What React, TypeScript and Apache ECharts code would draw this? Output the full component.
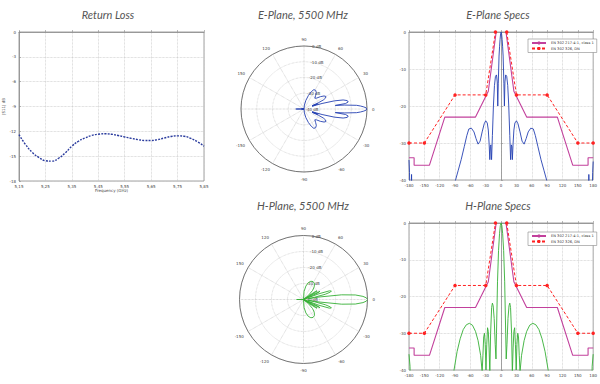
import React, { useEffect, useRef } from "react";
import * as echarts from "echarts";

// ---------- Return loss ----------
const RL_FREQ_GHZ = [5.15, 5.175, 5.2, 5.225, 5.25, 5.275, 5.3, 5.325, 5.35, 5.375, 5.4, 5.425, 5.45, 5.475, 5.5, 5.525, 5.55, 5.575, 5.6, 5.625, 5.65, 5.675, 5.7, 5.725, 5.75, 5.775, 5.8, 5.825, 5.85];
const RL_DB = [-12.4, -13.6, -14.55, -15.15, -15.55, -15.6, -15.25, -14.6, -13.8, -13.2, -12.8, -12.5, -12.35, -12.3, -12.35, -12.5, -12.68, -12.85, -13.0, -13.1, -13.1, -13.0, -12.8, -12.62, -12.55, -12.6, -12.85, -13.25, -13.8];
const RL_X_MIN = 5.15;
const RL_X_MAX = 5.85;
const RL_X_STEP = 0.1;
const RL_Y_MIN = -18;
const RL_Y_STEP = 3;

// ---------- E-plane pattern (deg, dB) ----------
const E_ANG = [-180, -179, -178, -176, -175, -174, -172, -100, -94, -90, -84, -78, -72, -67, -63, -58, -53, -49, -45, -41, -37, -33, -30, -27, -25, -23.5, -22, -21, -20, -18.6, -17, -15, -13, -11, -9, -7.5, -6.5, -5.5, -4, -3, -2, -1, 0, 1, 2, 3, 4, 5.5, 6.5, 7.5, 9, 11, 13, 15, 17, 18.6, 20, 21, 22, 23.5, 25, 27, 30, 33, 37, 41, 45, 49, 53, 58, 63, 67, 72, 78, 84, 90, 94, 100, 170, 170.5, 171.5, 172.5, 177.5, 179, 180];
const E_DB = [-34.6, -38, -46, -46, -38.5, -46, -50, -50, -44, -40.5, -37.5, -34.5, -31, -28, -26.2, -26, -27, -28.8, -30.3, -29.5, -27, -24.8, -24, -24.6, -26.5, -30, -34.5, -31, -30.5, -34.5, -28, -20, -14.5, -12, -11.6, -13.5, -20, -14, -6.5, -4, -2, -0.5, 0, -0.5, -2, -4, -6.5, -14, -20, -13.5, -11.6, -12, -14.5, -20, -28, -34.5, -30.5, -31, -34.5, -30, -26.5, -24.6, -24, -24.8, -27, -29.5, -30.3, -28.8, -27, -26, -26.2, -28, -31, -34.5, -37.5, -40.5, -44, -50, -50, -46, -38.5, -46, -46, -38, -35];

// ---------- H-plane pattern (deg, dB) ----------
const H_ANG = [-180, -178, -177, -172, -100, -95, -92, -86, -80, -74, -68, -62, -56, -50, -45, -40, -37, -35.5, -34, -32.5, -31, -29.5, -28, -26.5, -25, -23.5, -22, -20.5, -18.5, -17, -15.5, -13.5, -11.5, -10, -9, -7, -5, -3, -1.5, 0, 1.5, 3, 5, 7, 9, 10, 11.5, 13.5, 15.5, 17, 18.5, 20.5, 22, 23.5, 25, 26.5, 28, 29.5, 31, 32.5, 34, 35.5, 37, 40, 45, 50, 56, 62, 68, 74, 80, 86, 92, 95, 100, 172, 177, 178, 180];
const H_DB = [-35.7, -39, -46, -50, -50, -44, -40, -35, -31.5, -29, -27.7, -27.3, -27.8, -29.5, -32, -36, -40.5, -36, -31, -30, -33, -40, -33, -28.5, -29.5, -34, -41, -30, -23, -21.8, -22.5, -26, -33, -37, -30, -16, -7.5, -2.8, -0.7, 0, -0.7, -2.8, -7.5, -16, -30, -37, -33, -26, -22.5, -21.8, -23, -30, -41, -34, -29.5, -28.5, -33, -40, -33, -30, -31, -36, -40.5, -36, -32, -29.5, -27.8, -27.3, -27.7, -29, -31.5, -35, -40, -44, -50, -50, -46, -39, -35.7];

// ---------- Masks (null = gap where the mask leaves the top of the plot) ----------
const MASK1_NAME = "EN 302 217-4-1, class 1";
const MASK1_ANG = [-180, -170, -170, -140, -110, -50, -25, -9.6, null, 9.6, 25, 50, 110, 140, 170, 170, 180];
const MASK1_DB = [-34, -34, -36, -36, -23, -23, -16, 0, null, 0, -16, -23, -23, -36, -36, -34, -34];
const MASK2_NAME = "EN 302 326, DN";
const MASK2_ANG = [-180, -150, -90, -30, -11, null, 11, 30, 90, 150, 180];
const MASK2_DB = [-30, -30, -17, -17, 0, null, 0, -17, -17, -30, -30];

const ANG_MIN = -180;
const ANG_MAX = 180;
const ANG_STEP = 30;
const DB_MIN = -40;
const DB_MAX = 0;
const DB_STEP = 10;

const TITLES = ["Return Loss", "E-Plane, 5500 MHz", "E-Plane Specs", "H-Plane, 5500 MHz", "H-Plane Specs"];

export default function App() {
  const ref = useRef<HTMLDivElement>(null);
  useEffect(() => {
    const chart = echarts.init(ref.current!, null, { renderer: "svg" });
    const axisColor = "#8c8c8c";
    const tickFont = { fontSize: 4, color: "#444", fontFamily: "DejaVu Sans" };
    const dotted = { show: true, lineStyle: { color: "#c4c4c4", type: "dotted" as const, width: 0.7 } };
    const axLine = { show: true, lineStyle: { color: axisColor, width: 0.8 } };
    const inTick = { show: true, inside: true, length: 2, lineStyle: { color: axisColor, width: 0.6 } };

    const pairs = (xs: (number | null)[], ys: (number | null)[]) =>
      xs.map((x, i) => (x === null || ys[i] === null ? "-" : [x, ys[i]]));
    const polarPairs = (angs: number[], dbs: number[]) => angs.map((a, i) => [Math.max(dbs[i], DB_MIN), a]);

    const specX = (gi: number) => ({
      gridIndex: gi, type: "value", min: ANG_MIN, max: ANG_MAX, interval: ANG_STEP,
      axisLine: axLine, axisTick: inTick, splitLine: dotted,
      axisLabel: { ...tickFont, margin: 3 },
    });
    const specY = (gi: number) => ({
      gridIndex: gi, type: "value", min: DB_MIN, max: DB_MAX, interval: DB_STEP,
      axisLine: axLine, axisTick: inTick, splitLine: dotted,
      axisLabel: { ...tickFont, margin: 3 },
    });

    const angleAxisMain = (pi: number) => ({
      polarIndex: pi, type: "value", min: ANG_MIN, max: ANG_MAX, interval: ANG_STEP,
      startAngle: 180, clockwise: false,
      axisLine: { show: true, lineStyle: { color: "#777", width: 1 } },
      axisTick: { show: false },
      axisLabel: { ...tickFont, margin: 5, formatter: (v: number) => (v === ANG_MIN ? "" : String(v)) },
      splitLine: { show: true, lineStyle: { color: "#bdbdbd", type: "dotted" as const, width: 0.7 } },
    });
    const radiusAxisMain = (pi: number) => ({
      polarIndex: pi, type: "value", min: DB_MIN, max: DB_MAX, interval: DB_STEP,
      axisLine: { show: false }, axisTick: { show: false }, axisLabel: { show: false },
      splitLine: { show: true, lineStyle: { color: "#c4c4c4", type: "dotted" as const, width: 0.7 } },
    });
    const angleAxisLabel = (pi: number) => ({
      polarIndex: pi, type: "value", min: ANG_MIN, max: ANG_MAX, startAngle: 84, clockwise: false,
      axisLine: { show: false }, axisTick: { show: false }, axisLabel: { show: false }, splitLine: { show: false },
    });
    const radiusAxisLabel = (pi: number) => ({
      polarIndex: pi, type: "value", min: DB_MIN, max: DB_MAX, interval: DB_STEP,
      axisLine: { show: false }, axisTick: { show: false }, splitLine: { show: false },
      axisLabel: { ...tickFont, margin: -1.5, align: "left", verticalAlign: "middle", formatter: (v: number) => `${v} dB` },
    });

    const maskSeries = (xi: number) => [
      {
        name: MASK1_NAME, type: "line", xAxisIndex: xi, yAxisIndex: xi,
        data: pairs(MASK1_ANG, MASK1_DB), symbol: "none", clip: true, connectNulls: false,
        lineStyle: { color: "#c2409c", width: 1.1 }, itemStyle: { color: "#c2409c" },
      },
      {
        name: MASK2_NAME, type: "line", xAxisIndex: xi, yAxisIndex: xi,
        data: pairs(MASK2_ANG, MASK2_DB), symbol: "circle", symbolSize: 3.5, clip: true, connectNulls: false,
        lineStyle: { color: "#f22", width: 1, type: [3, 2] }, itemStyle: { color: "#f22" },
      },
    ];

    const legend = (top: number) => ({
      data: [MASK1_NAME, MASK2_NAME], orient: "vertical", left: 528, top,
      itemWidth: 14, itemHeight: 4, itemGap: 1.5, padding: [2, 3, 2, 3],
      backgroundColor: "#fff", borderColor: "#888", borderWidth: 0.6, borderRadius: 0,
      textStyle: { fontSize: 3.6, color: "#333", fontFamily: "DejaVu Sans", padding: [0, 0, 0, 0] },
      selectedMode: false,
    });

    const titleText = (text: string, x: number, y: number) => ({
      type: "text", x, y,
      style: {
        text, fontSize: 11, fontFamily: "Lato", fontStyle: "italic", fill: "#555",
        textAlign: "center", align: "center", textVerticalAlign: "middle", verticalAlign: "middle",
      },
    });

    const option: any = {
      animation: false,
      backgroundColor: "#fff",
      graphic: [
        titleText(TITLES[0], 108, 14.5),
        titleText(TITLES[1], 303, 14.5),
        titleText(TITLES[2], 498, 14.5),
        titleText(TITLES[3], 303, 205.5),
        titleText(TITLES[4], 498, 205.5),
      ],
      legend: [legend(39), legend(232)],
      grid: [
        { left: 19, top: 32, width: 185, height: 149, show: true, borderColor: axisColor, borderWidth: 0.8, backgroundColor: "#fff" },
        { left: 409, top: 32, width: 187.5, height: 148, show: true, borderColor: axisColor, borderWidth: 0.8, backgroundColor: "#fff" },
        { left: 409, top: 223, width: 188, height: 147, show: true, borderColor: axisColor, borderWidth: 0.8, backgroundColor: "#fff" },
      ],
      xAxis: [
        {
          gridIndex: 0, type: "value", min: 0, max: RL_X_MAX - RL_X_MIN, interval: RL_X_STEP,
          axisLine: axLine, axisTick: inTick, splitLine: dotted,
          axisLabel: { ...tickFont, margin: 3, formatter: (v: number) => (RL_X_MIN + v).toFixed(2).replace(".", ",") },
          name: "Frequency (GHz)", nameLocation: "middle", nameGap: 6,
          nameTextStyle: { ...tickFont },
        },
        specX(1),
        specX(2),
      ],
      yAxis: [
        {
          gridIndex: 0, type: "value", min: RL_Y_MIN, max: 0, interval: RL_Y_STEP,
          axisLine: axLine, axisTick: inTick, splitLine: dotted,
          axisLabel: { ...tickFont, margin: 3 },
          name: "|S11| dB", nameLocation: "middle", nameGap: 6, nameRotate: 90,
          nameTextStyle: { ...tickFont },
        },
        specY(1),
        specY(2),
      ],
      polar: [
        { center: [304, 109], radius: 63 },
        { center: [304, 109], radius: 63 },
        { center: [303.5, 299.5], radius: 64 },
        { center: [303.5, 299.5], radius: 64 },
      ],
      angleAxis: [angleAxisMain(0), angleAxisLabel(1), angleAxisMain(2), angleAxisLabel(3)],
      radiusAxis: [radiusAxisMain(0), radiusAxisLabel(1), radiusAxisMain(2), radiusAxisLabel(3)],
      series: [
        {
          name: "Return Loss", type: "line", xAxisIndex: 0, yAxisIndex: 0,
          data: RL_FREQ_GHZ.map((f, i) => [f - RL_X_MIN, RL_DB[i]]),
          smooth: true, symbol: "none",
          lineStyle: { color: "#2b3c9e", width: 1.4, type: [2, 1.2] },
        },
        {
          name: "E-Plane", type: "line", coordinateSystem: "polar", polarIndex: 0,
          data: polarPairs(E_ANG, E_DB), symbol: "none",
          lineStyle: { color: "#2541b2", width: 0.9 },
        },
        {
          name: "H-Plane", type: "line", coordinateSystem: "polar", polarIndex: 2,
          data: polarPairs(H_ANG, H_DB), symbol: "none",
          lineStyle: { color: "#35b035", width: 0.9 },
        },
        ...maskSeries(1),
        {
          name: "E-Plane Spec", type: "line", xAxisIndex: 1, yAxisIndex: 1,
          data: pairs(E_ANG, E_DB), symbol: "none", clip: true,
          lineStyle: { color: "#2541b2", width: 0.9 },
        },
        ...maskSeries(2),
        {
          name: "H-Plane Spec", type: "line", xAxisIndex: 2, yAxisIndex: 2,
          data: pairs(H_ANG, H_DB), symbol: "none", clip: true,
          lineStyle: { color: "#35b035", width: 0.9 },
        },
      ],
    };
    chart.setOption(option);
    return () => chart.dispose();
  }, []);
  return (
    <div
      ref={ref}
      style={{ position: "absolute", left: 0, top: 0, width: 600, height: 384, background: "#fff" }}
    />
  );
}
